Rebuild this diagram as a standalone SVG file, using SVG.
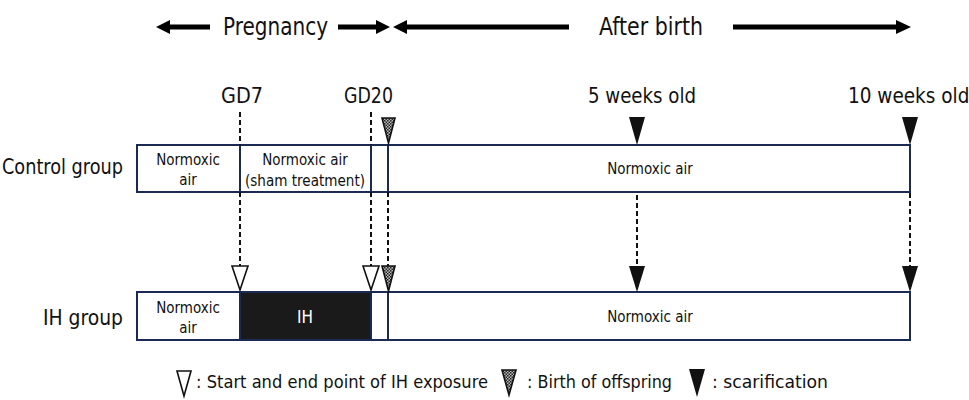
<svg xmlns="http://www.w3.org/2000/svg" width="969" height="400" viewBox="0 0 969 400">
<style>
text{font-family:"DejaVu Sans Condensed","DejaVu Sans",sans-serif;fill:#111}
.big{font-size:22px}
.sm{font-size:15px}
.lg{font-size:18px}
.box{fill:#fff;stroke:#1a2a52;stroke-width:2}
.div{stroke:#1a2a52;stroke-width:2}
.dash{stroke:#111;stroke-width:2;stroke-dasharray:5,3;fill:none}
.bar{stroke:#000;stroke-width:5}
.open{fill:#fff;stroke:#111;stroke-width:1.6}
.fill{fill:#111}
.hatch{fill:url(#chk);stroke:#111;stroke-width:1.6}
</style>
<defs>
<pattern id="chk" width="3" height="3" patternUnits="userSpaceOnUse">
<rect width="3" height="3" fill="#bbb"/>
<rect width="1.5" height="1.5" fill="#222"/>
<rect x="1.5" y="1.5" width="1.5" height="1.5" fill="#222"/>
</pattern>
</defs>

<g id="period-arrows">
<line class="bar" x1="168" y1="27" x2="210" y2="27"/>
<polygon points="156,27 170,20 170,34" fill="#000"/>
<text class="big" x="223" y="35" textLength="105" lengthAdjust="spacingAndGlyphs" style="font-size:24px">Pregnancy</text>
<line class="bar" x1="338" y1="27" x2="378" y2="27"/>
<polygon points="390,27 376,20 376,34" fill="#000"/>
<line class="bar" x1="405" y1="27" x2="569" y2="27"/>
<polygon points="393,27 407,20 407,34" fill="#000"/>
<text class="big" x="599" y="35" textLength="104" lengthAdjust="spacingAndGlyphs" style="font-size:24px">After birth</text>
<line class="bar" x1="733" y1="27" x2="898" y2="27"/>
<polygon points="911,27 896,20 896,34" fill="#000"/>
</g>

<g id="time-labels">
<text class="big" x="221" y="103" textLength="42" lengthAdjust="spacingAndGlyphs">GD7</text>
<text class="big" x="344" y="103" textLength="49" lengthAdjust="spacingAndGlyphs">GD20</text>
<text class="big" x="588" y="103" textLength="108" lengthAdjust="spacingAndGlyphs">5 weeks old</text>
<text class="big" x="848" y="103" style="font-size:20.5px">10 weeks old</text>
</g>

<g id="control-group">
<text class="big" x="2" y="174" textLength="121" lengthAdjust="spacingAndGlyphs">Control group</text>
<rect class="box" x="137" y="145" width="773" height="47"/>
<line class="div" x1="240" y1="145" x2="240" y2="192"/>
<line class="div" x1="371" y1="145" x2="371" y2="192"/>
<line class="div" x1="388" y1="145" x2="388" y2="192"/>
<text class="sm" x="188" y="165" text-anchor="middle">Normoxic</text>
<text class="sm" x="188" y="185" text-anchor="middle">air</text>
<text class="sm" x="305" y="165" text-anchor="middle">Normoxic air</text>
<text class="sm" x="305" y="186" text-anchor="middle" textLength="120" lengthAdjust="spacingAndGlyphs">(sham treatment)</text>
<text class="sm" x="650" y="174" text-anchor="middle">Normoxic air</text>
</g>

<g id="ih-group">
<text class="big" x="43" y="325" textLength="80" lengthAdjust="spacingAndGlyphs">IH group</text>
<rect class="box" x="137" y="292" width="773" height="48"/>
<rect x="240" y="292" width="131" height="48" fill="#1a1a1a" stroke="#1a2a52" stroke-width="2"/>
<line class="div" x1="388" y1="292" x2="388" y2="340"/>
<text class="sm" x="188" y="313" text-anchor="middle">Normoxic</text>
<text class="sm" x="188" y="333" text-anchor="middle">air</text>
<text class="sm" x="305" y="323" text-anchor="middle" style="fill:#fff;font-size:17px">IH</text>
<text class="sm" x="650" y="322" text-anchor="middle">Normoxic air</text>
</g>

<g id="connectors">
<line class="dash" x1="240" y1="112" x2="240" y2="145"/>
<line class="dash" x1="371" y1="112" x2="371" y2="145"/>
<line class="dash" x1="240" y1="192" x2="240" y2="266"/>
<line class="dash" x1="371" y1="192" x2="371" y2="266"/>
<line class="dash" x1="388" y1="192" x2="388" y2="266"/>
<line class="dash" x1="637" y1="195" x2="637" y2="267"/>
<line class="dash" x1="910" y1="193" x2="910" y2="267"/>
</g>

<g id="markers">
<polygon class="hatch" points="382,118 395,118 388.5,143"/>
<polygon class="fill" points="629,117 645,117 637,145"/>
<polygon class="fill" points="902,117 918,117 910,145"/>
<polygon class="open" points="232,266 248,266 240,290"/>
<polygon class="open" points="363,266 379,266 371,290"/>
<polygon class="hatch" points="382,266 395,266 388.5,291"/>
<polygon class="fill" points="629,266 645,266 637,292"/>
<polygon class="fill" points="902,266 918,266 910,292"/>
</g>

<g id="legend">
<polygon class="open" points="177,371 191,371 184,396"/>
<text class="lg" x="196" y="388" textLength="292" lengthAdjust="spacingAndGlyphs">: Start and end point of IH exposure</text>
<polygon class="hatch" points="502,370 516,370 509,395"/>
<text class="lg" x="527" y="388" textLength="145" lengthAdjust="spacingAndGlyphs">: Birth of offspring</text>
<polygon class="fill" points="689,369 705,369 697,397"/>
<text class="lg" x="712" y="388" textLength="116" lengthAdjust="spacingAndGlyphs">: scarification</text>
</g>
</svg>
